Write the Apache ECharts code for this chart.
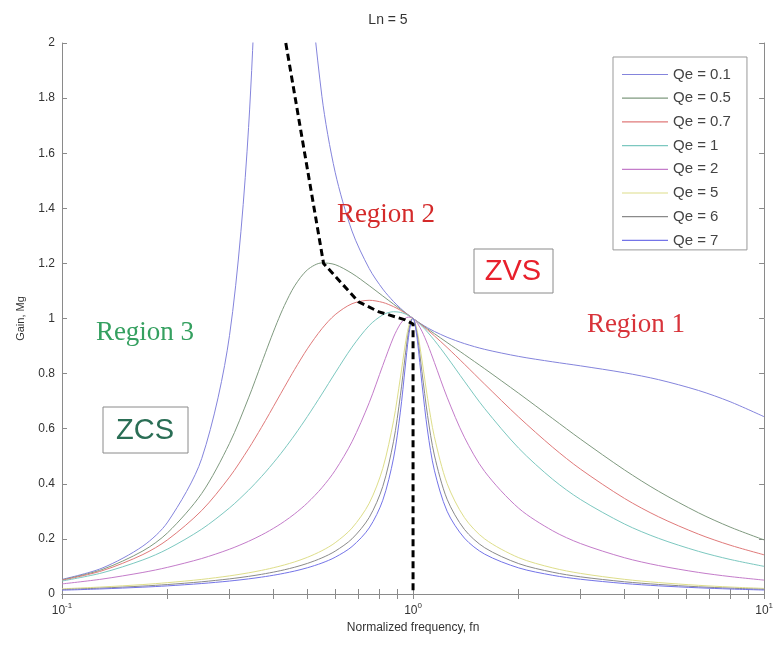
<!DOCTYPE html>
<html>
<head>
<meta charset="utf-8">
<script src="https://cdn.jsdelivr.net/npm/echarts@6/dist/echarts.min.js"></script>
<style>html,body{margin:0;padding:0;background:#fff;}#c{width:776px;height:646px;}</style>
</head>
<body>
<div id="c"></div>
<script>
// Normalized frequency sample points (read along the x axis)
const freq = [0.1, 0.13, 0.17, 0.2, 0.25, 0.3, 0.34, 0.37, 0.39, 0.41, 0.43, 0.46, 0.5, 0.55, 0.6, 0.67, 0.75, 0.82, 0.88, 0.92, 0.95, 0.97, 0.99, 1.0, 1.01, 1.03, 1.06, 1.1, 1.15, 1.25, 1.4, 1.6, 2, 2.5, 3, 4, 5, 6.5, 8, 10];
// Gain values read for each Qe curve
const qe01 = [0.0531, 0.0938, 0.174, 0.2611, 0.4914, 0.9378, 1.6935, 2.857, 4.067, 4.922, 4.475, 3.2565, 2.341, 1.8066, 1.5309, 1.3175, 1.1814, 1.1068, 1.0615, 1.0375, 1.0221, 1.0127, 1.0041, 1.0, 0.9961, 0.9886, 0.9784, 0.9663, 0.9532, 0.9320, 0.9090, 0.8880, 0.8623, 0.8427, 0.8281, 0.8030, 0.7782, 0.7389, 0.6980, 0.6435];
const qe05 = [0.0514, 0.0886, 0.1564, 0.2225, 0.3648, 0.5467, 0.7120, 0.8367, 0.9148, 0.9856, 1.0469, 1.1185, 1.1765, 1.2018, 1.1955, 1.1637, 1.1193, 1.0817, 1.0521, 1.0338, 1.0207, 1.0123, 1.0041, 1.0, 0.9960, 0.9882, 0.9769, 0.9624, 0.9451, 0.9129, 0.8694, 0.8175, 0.7284, 0.6367, 0.5621, 0.4506, 0.3732, 0.2949, 0.2430, 0.1963];
const qe07 = [0.0499, 0.0842, 0.1433, 0.1971, 0.3030, 0.4243, 0.5273, 0.6047, 0.6552, 0.7041, 0.7506, 0.8153, 0.890, 0.9630, 1.0139, 1.0536, 1.0661, 1.0583, 1.0431, 1.0301, 1.0194, 1.0118, 1.0040, 1.0, 0.9960, 0.9878, 0.9754, 0.9585, 0.9372, 0.8950, 0.8345, 0.7615, 0.6422, 0.5326, 0.4531, 0.3471, 0.2805, 0.2174, 0.1773, 0.1422];
const qe1 = [0.0471, 0.0766, 0.1237, 0.1633, 0.2353, 0.3124, 0.3767, 0.4260, 0.4593, 0.4928, 0.5265, 0.5771, 0.6442, 0.7257, 0.8024, 0.8959, 0.9743, 1.0131, 1.0246, 1.0224, 1.0165, 1.0108, 1.0039, 1.0, 0.9959, 0.9870, 0.9722, 0.9504, 0.9211, 0.8601, 0.7725, 0.6728, 0.5291, 0.4162, 0.3430, 0.2542, 0.2022, 0.1549, 0.1255, 0.1003];
const qe2 = [0.0366, 0.0541, 0.0783, 0.0969, 0.1288, 0.1625, 0.1912, 0.2140, 0.2299, 0.2464, 0.2636, 0.2909, 0.3304, 0.3857, 0.4487, 0.5526, 0.6943, 0.8296, 0.9326, 0.9804, 1.0003, 1.0051, 1.0033, 1.0, 0.9953, 0.9820, 0.9539, 0.9067, 0.8408, 0.7144, 0.5692, 0.4445, 0.3112, 0.2294, 0.1831, 0.1317, 0.1034, 0.0784, 0.0633, 0.0504];
const qe5 = [0.0189, 0.0255, 0.0343, 0.0412, 0.0530, 0.0658, 0.0768, 0.0857, 0.0920, 0.0986, 0.1055, 0.1166, 0.1331, 0.1571, 0.1861, 0.2392, 0.3293, 0.4562, 0.6287, 0.7843, 0.9052, 0.9678, 0.9991, 1.0, 0.9912, 0.9490, 0.8499, 0.7104, 0.5711, 0.4012, 0.2778, 0.1999, 0.1318, 0.0947, 0.0747, 0.0532, 0.0416, 0.0315, 0.0254, 0.0202];
const qe6 = [0.0161, 0.0215, 0.0288, 0.0344, 0.0443, 0.0549, 0.0640, 0.0714, 0.0767, 0.0821, 0.0879, 0.0972, 0.1110, 0.1311, 0.1555, 0.2003, 0.2777, 0.3904, 0.5544, 0.7194, 0.8651, 0.9498, 0.9969, 1.0, 0.9891, 0.9329, 0.8074, 0.6478, 0.5044, 0.3442, 0.2348, 0.1679, 0.1102, 0.0790, 0.0623, 0.0444, 0.0347, 0.0262, 0.0212, 0.0168];
const qe7 = [0.0139, 0.0185, 0.0248, 0.0296, 0.0380, 0.0470, 0.0549, 0.0612, 0.0657, 0.0704, 0.0754, 0.0833, 0.0952, 0.1124, 0.1334, 0.1722, 0.2398, 0.3403, 0.4934, 0.6601, 0.8239, 0.9298, 0.9942, 1.0, 0.9866, 0.9150, 0.7645, 0.5917, 0.4493, 0.3005, 0.2031, 0.1446, 0.0947, 0.0678, 0.0535, 0.0381, 0.0297, 0.0225, 0.0181, 0.0144];
// ZVS/ZCS boundary (dashed)
const boundaryFreq = [0.434, 0.556, 0.70, 0.80, 0.95, 1.0, 1.0];
const boundaryGain = [2.0, 1.2, 1.06, 1.024, 0.995, 0.98, 0.0];
// Legend names and colours
const seriesNames = ['Qe = 0.1', 'Qe = 0.5', 'Qe = 0.7', 'Qe = 1', 'Qe = 2', 'Qe = 5', 'Qe = 6', 'Qe = 7'];
const seriesValues = [qe01, qe05, qe07, qe1, qe2, qe5, qe6, qe7];
const seriesColors = ['#8484dc', '#7f9a7f', '#e07a7a', '#7cc8c0', '#c47cca', '#dede8a', '#8a8a8a', '#7474e8'];
// Tick labels
const xLabelValues = [0.1, 1, 10];
const xLabelExps = ['-1', '0', '1'];
const xTickValues = [0.1,0.2,0.3,0.4,0.5,0.6,0.7,0.8,0.9,1,2,3,4,5,6,7,8,9,10];

const chart = echarts.init(document.getElementById('c'), null, {renderer: 'canvas'});
const axisColor = '#8a8a8a';
function xFmt(v) {
  let best = 0, bd = Infinity;
  xLabelValues.forEach((x, i) => { const d = Math.abs(x - v); if (d < bd) { bd = d; best = i; } });
  return '{b|10}{s|' + xLabelExps[best] + '}';
}
const commonX = {
  type: 'log', logBase: 10, min: 0.1, max: 10,
  axisLine: {show: true, lineStyle: {color: axisColor, width: 1}},
  axisTick: {show: true, inside: true, length: 5, customValues: xTickValues, lineStyle: {color: axisColor}},
  splitLine: {show: false}, minorTick: {show: false}
};
const series = seriesNames.map((n, k) => ({
  name: n, type: 'line', symbol: 'none', showSymbol: false, smooth: 0.3, clip: true,
  lineStyle: {width: 1, color: seriesColors[k]},
  itemStyle: {color: seriesColors[k]},
  data: freq.map((f, i) => [f, seriesValues[k][i]])
}));
series.push({
  name: 'boundary', type: 'line', symbol: 'none', z: 5,
  lineStyle: {width: 3, color: '#000', type: [7, 4]},
  data: boundaryFreq.map((f, i) => [f, boundaryGain[i]])
});
const lineIcon = 'path://M0,0 L46,0 L46,1.2 L0,1.2 Z';
chart.setOption({
  backgroundColor: '#fff',
  animation: false,
  title: {text: 'Ln = 5', left: 'center', top: 8, textStyle: {fontSize: 14, fontWeight: 'normal', color: '#333', fontFamily: 'Liberation Sans'}},
  grid: {left: 62, right: 8, top: 43, bottom: 52},
  legend: {
    orient: 'vertical', left: 613, top: 57,
    data: seriesNames.map(n => ({name: n, icon: lineIcon})),
    itemWidth: 46, itemHeight: 14, itemGap: 8.7, symbolKeepAspect: true,
    padding: [10, 16, 2, 9], borderColor: '#999', borderWidth: 1, backgroundColor: '#fff',
    textStyle: {fontSize: 15, color: '#444', fontFamily: 'Liberation Sans'}
  },
  xAxis: [
    Object.assign({}, commonX, {
      position: 'bottom',
      name: 'Normalized frequency, fn', nameLocation: 'middle', nameGap: 27,
      nameTextStyle: {fontSize: 12, color: '#333', fontFamily: 'Liberation Sans'},
      axisLabel: {show: true, customValues: xLabelValues, margin: 8, formatter: xFmt,
        rich: {b: {fontSize: 12, lineHeight: 18, color: '#333', fontFamily: 'Liberation Sans'},
               s: {fontSize: 8, lineHeight: 8, verticalAlign: 'top', color: '#333', fontFamily: 'Liberation Sans'}}}
    }),
    Object.assign({}, commonX, {position: 'top', axisLabel: {show: false}})
  ],
  yAxis: [
    {type: 'value', min: 0, max: 2, interval: 0.2, position: 'left',
     name: 'Gain, Mg', nameLocation: 'middle', nameGap: 36, nameRotate: 90,
     nameTextStyle: {fontSize: 11, color: '#333', fontFamily: 'Liberation Sans'},
     axisLine: {show: true, lineStyle: {color: axisColor}},
     axisTick: {show: true, inside: true, length: 5, lineStyle: {color: axisColor}},
     axisLabel: {fontSize: 12, color: '#333', margin: 7, fontFamily: 'Liberation Sans'},
     splitLine: {show: false}},
    {type: 'value', min: 0, max: 2, interval: 0.2, position: 'right',
     axisLine: {show: true, lineStyle: {color: axisColor}},
     axisTick: {show: true, inside: true, length: 5, lineStyle: {color: axisColor}},
     axisLabel: {show: false}, splitLine: {show: false}}
  ],
  graphic: [
    {type: 'text', x: 386, y: 215, z: 10, style: {text: 'Region 2', font: '27px "Liberation Serif"', fill: '#d42a2a', align: 'center', verticalAlign: 'middle'}},
    {type: 'text', x: 636, y: 325, z: 10, style: {text: 'Region 1', font: '27px "Liberation Serif"', fill: '#d8333a', align: 'center', verticalAlign: 'middle'}},
    {type: 'text', x: 145, y: 333, z: 10, style: {text: 'Region 3', font: '27px "Liberation Serif"', fill: '#35a060', align: 'center', verticalAlign: 'middle'}},
    {type: 'rect', z: 10, shape: {x: 474, y: 249, width: 79, height: 44}, style: {fill: '#fff', stroke: '#8a8a8a', lineWidth: 1}},
    {type: 'text', x: 513, y: 272, z: 11, style: {text: 'ZVS', font: '29px "Liberation Sans"', fill: '#e8202c', align: 'center', verticalAlign: 'middle'}},
    {type: 'rect', z: 10, shape: {x: 103, y: 407, width: 85, height: 46}, style: {fill: '#fff', stroke: '#8a8a8a', lineWidth: 1}},
    {type: 'text', x: 145, y: 431, z: 11, style: {text: 'ZCS', font: '29px "Liberation Sans"', fill: '#2a6e55', align: 'center', verticalAlign: 'middle'}}
  ],
  series: series
});
</script>
</body>
</html>
